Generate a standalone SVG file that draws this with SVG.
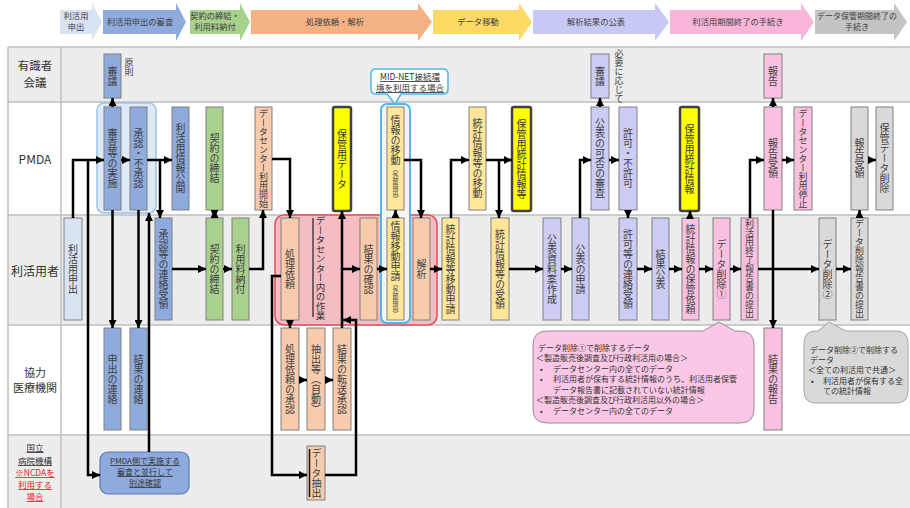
<svg xmlns="http://www.w3.org/2000/svg" width="910" height="508" viewBox="0 0 910 508">
<defs>
<marker id="ah" viewBox="0 0 10 10" refX="10" refY="5" markerWidth="8" markerHeight="8" markerUnits="userSpaceOnUse" orient="auto-start-reverse"><path d="M0,0 L10,5 L0,10 z" fill="#000"/></marker>
</defs>
<style>
text{font-family:"Noto Sans CJK JP","Noto Sans",sans-serif;fill:#333}
.v{writing-mode:vertical-rl;text-anchor:middle;dominant-baseline:central;font-size:10px;fill:#404040}
.vs{font-size:6px}
.h{text-anchor:middle;font-size:8.3px;fill:#404040}
.lbl{text-anchor:middle;font-size:12px;fill:#333}
.nl{text-anchor:middle;font-size:8.5px;text-decoration:underline}
.ct{font-size:8px;fill:#333}
.n rect{stroke:#808080;stroke-width:1}
.n .lb{fill:#DAE3F3}
.n .bl{fill:#8FAADC}
.n .gr{fill:#A9D18E}
.n .sa{fill:#F8CBAD}
.n .or{fill:#FFE699}
.n .ye{fill:#FFFF00;stroke:#404040;stroke-width:2.5}
.n .la{fill:#CCCCF5}
.n .pk{fill:#F9C0DF}
.n .gy{fill:#D9D9D9}
.cn path{fill:none;stroke:#000;stroke-width:2.5;marker-end:url(#ah)}
</style>
<rect x="0" y="0" width="910" height="508" fill="#FFFFFF"/>
<g id="phases">
<polygon points="60,10 92,10 92,3 102,22 92,41 92,34 60,34" fill="#DAE3F3"/>
<text class="h" x="76" y="19">利活用</text><text class="h" x="76" y="30">申出</text>
<polygon points="103,10 176,10 176,3 186,22 176,41 176,34 103,34" fill="#8FAADC"/>
<text class="h" x="140" y="25">利活用申出の審査</text>
<polygon points="190,10 240,10 240,3 250,22 240,41 240,34 190,34" fill="#A9D18E"/>
<text class="h" x="215" y="19">契約の締結・</text><text class="h" x="215" y="30">利用料納付</text>
<polygon points="251,10 418,10 418,3 432,22 418,41 418,34 251,34" fill="#F4B183"/>
<text class="h" x="335" y="25">処理依頼・解析</text>
<polygon points="433,10 519,10 519,3 532,22 519,41 519,34 433,34" fill="#FFD966"/>
<text class="h" x="478" y="25">データ移動</text>
<polygon points="533,10 655,10 655,3 669,22 655,41 655,34 533,34" fill="#C8C8F5"/>
<text class="h" x="596" y="25">解析結果の公表</text>
<polygon points="670,10 801,10 801,3 814,22 801,41 801,34 670,34" fill="#F9B6D8"/>
<text class="h" x="738" y="25">利活用期間終了の手続き</text>
<polygon points="815,10 894,10 894,3 907,22 894,41 894,34 815,34" fill="#C4C4C4"/>
<text class="h" x="857" y="19" style="font-size:8px">データ保管期間終了の</text><text class="h" x="857" y="30" style="font-size:8px">手続き</text>
</g>
<g id="lanes">
<rect x="8" y="47" width="902" height="55" fill="#EDEDED"/>
<rect x="8" y="102" width="902" height="113" fill="#FFFFFF"/>
<rect x="8" y="215" width="902" height="110" fill="#EDEDED"/>
<rect x="8" y="325" width="902" height="110" fill="#FFFFFF"/>
<rect x="8" y="435" width="902" height="73" fill="#EDEDED"/>
<path d="M8,47 H910 M8,102 H910 M8,215 H910 M8,325 H910 M8,435 H910 M8,47 V508 M61,47 V508" stroke="#BFBFBF" stroke-width="1.5" fill="none"/>
<text class="lbl" x="35" y="70" style="font-size:11.5px">有識者</text><text class="lbl" x="35" y="87" style="font-size:11.5px">会議</text>
<text class="lbl" x="35" y="164">PMDA</text>
<text class="lbl" x="35" y="276">利活用者</text>
<text class="lbl" x="35" y="377" style="font-size:11px">協力</text><text class="lbl" x="35" y="392" style="font-size:11px">医療機関</text>
<text class="nl" x="35" y="451">国立</text>
<text class="nl" x="35" y="464">病院機構</text>
<text class="nl" x="35" y="476" style="fill:#E8202A">※NCDAを</text>
<text class="nl" x="35" y="488" style="fill:#E8202A">利用する</text>
<text class="nl" x="35" y="500" style="fill:#E8202A">場合</text>
</g>
<g id="highlights">
<rect x="97" y="103" width="59" height="110" rx="7" fill="#DEEBF7" stroke="#9DC3E6" stroke-width="1.5"/>
<rect x="275" y="215" width="162" height="110" rx="9" fill="#F5BCC3" stroke="#E8485A" stroke-width="1.5"/>
<rect x="381" y="104" width="29" height="219" rx="6" fill="#F3F3F3" stroke="#4BB8E8" stroke-width="2"/>
</g>
<g id="callout-midnet">
<path d="M376,69 H443 Q448,69 448,74 V89 Q448,94 443,94 H401 L395,104 L387,94 H376 Q371,94 371,89 V74 Q371,69 376,69 Z" fill="#FFFFFF" stroke="#4BB8E8" stroke-width="1.5"/>
<text class="nl" x="410" y="80">MID-NET接続環</text>
<text class="nl" x="410" y="91">境を利用する場合</text>
</g>
<g id="n1" class="n"><rect class="lb" x="64" y="218" width="18" height="102"/><text class="v" x="73" y="269">利活用申出</text></g>
<g id="n2" class="n"><rect class="bl" x="104" y="54" width="17" height="44"/><text class="v" x="112.5" y="76">審議</text></g>
<g id="n2note"><text class="v" x="129" y="67" style="font-size:9px">原則</text></g>
<g id="n3" class="n"><rect class="bl" x="104" y="107" width="17" height="103"/><text class="v" x="112.5" y="158.5">審査等の実施</text></g>
<g id="n4" class="n"><rect class="bl" x="130" y="107" width="17" height="103"/><text class="v" x="138.5" y="158.5">承認・不承認</text></g>
<g id="n5" class="n"><rect class="bl" x="172" y="107" width="17" height="103"/><text class="v" x="180.5" y="158.5">利活用情報公開</text></g>
<g id="n6" class="n"><rect class="bl" x="155" y="218" width="17" height="102"/><text class="v" x="163.5" y="269">承認等の連絡受領</text></g>
<g id="n7" class="n"><rect class="bl" x="104" y="328" width="17" height="102"/><text class="v" x="112.5" y="379">申出の連絡</text></g>
<g id="n8" class="n"><rect class="bl" x="130" y="328" width="17" height="102"/><text class="v" x="138.5" y="379">結果の連絡</text></g>
<g id="n9"><rect x="100" y="452" width="89" height="42" rx="8" fill="#8FAADC" stroke="#5B7BB5" stroke-width="1.2"/>
<text class="nl" x="145" y="464" style="font-size:8px">PMDA側で実施する</text>
<text class="nl" x="145" y="475" style="font-size:8px">審査と並行して</text>
<text class="nl" x="145" y="486" style="font-size:8px">別途確認</text></g>
<g id="n10" class="n"><rect class="gr" x="206" y="107" width="17" height="103"/><text class="v" x="214.5" y="158.5">契約の締結</text></g>
<g id="n11" class="n"><rect class="gr" x="206" y="218" width="17" height="102"/><text class="v" x="214.5" y="269">契約の締結</text></g>
<g id="n12" class="n"><rect class="gr" x="232" y="218" width="17" height="102"/><text class="v" x="240.5" y="269">利用料納付</text></g>
<g id="n13" class="n"><rect class="sa" x="255" y="107" width="17" height="103"/><text class="v" x="263.5" y="158.5" style="font-size:9px">データセンター利用開始</text></g>
<g id="n14" class="n"><rect class="ye" x="333" y="107" width="18" height="104" rx="2"/><text class="v" x="342" y="159" style="fill:#333">保管用データ</text></g>
<g id="n15" class="n"><rect class="sa" x="281" y="218" width="18" height="102"/><text class="v" x="290" y="269">処理依頼</text></g>
<g id="n16"><line x1="313" y1="218" x2="313" y2="317" stroke="#222" stroke-width="1.2"/><text class="v" x="320.5" y="268" style="font-size:9.5px;fill:#333">データセンター内の作業</text></g>
<g id="n17" class="n"><rect class="sa" x="360" y="218" width="17" height="102"/><text class="v" x="368.5" y="269">結果の確認</text></g>
<g id="n18" class="n"><rect class="or" x="387" y="107" width="17" height="103"/><text class="v" x="395.5" y="158.5">情報の移動<tspan class="vs">（外部環境）</tspan></text></g>
<g id="n19" class="n"><rect class="or" x="387" y="218" width="17" height="102"/><text class="v" x="395.5" y="269">情報移動申請<tspan class="vs">（外部環境）</tspan></text></g>
<g id="n20" class="n"><rect class="sa" x="413" y="218" width="17" height="102"/><text class="v" x="421.5" y="269">解析</text></g>
<g id="n21" class="n"><rect class="sa" x="281" y="328" width="18" height="102"/><text class="v" x="290" y="379">処理依頼の承認</text></g>
<g id="n22" class="n"><rect class="sa" x="307" y="328" width="18" height="102"/><text class="v" x="316" y="379">抽出等（自動）</text></g>
<g id="n23" class="n"><rect class="sa" x="333" y="328" width="18" height="102"/><text class="v" x="342" y="379">結果の転送承認</text></g>
<g id="n24" class="n"><rect class="sa" x="307" y="446" width="18" height="54"/><line x1="309.5" y1="449" x2="309.5" y2="497" stroke="#111" stroke-width="1.5"/><text class="v" x="316.5" y="473">データ抽出</text></g>
<g id="n25" class="n"><rect class="or" x="469" y="107" width="17" height="103"/><text class="v" x="477.5" y="158.5">統計情報等の移動</text></g>
<g id="n26" class="n"><rect class="ye" x="512" y="107" width="19" height="104" rx="2"/><text class="v" x="521.5" y="159" style="fill:#333">保管用統計情報等</text></g>
<g id="n27" class="n"><rect class="or" x="442" y="218" width="17" height="102"/><text class="v" x="450.5" y="269">統計情報等移動申請</text></g>
<g id="n28" class="n"><rect class="or" x="491" y="218" width="18" height="102"/><text class="v" x="500" y="269">統計情報等の受領</text></g>
<g id="n29" class="n"><rect class="la" x="591" y="54" width="18" height="44"/><text class="v" x="600" y="76">審議</text></g>
<g id="n29note"><text class="v" x="619" y="76" style="font-size:9px">必要に応じて</text></g>
<g id="n30" class="n"><rect class="la" x="591" y="107" width="18" height="103"/><text class="v" x="600" y="158.5">公表の可否の審査</text></g>
<g id="n31" class="n"><rect class="la" x="619" y="107" width="18" height="103"/><text class="v" x="628" y="158.5">許可・不許可</text></g>
<g id="n32" class="n"><rect class="la" x="543" y="218" width="18" height="102"/><text class="v" x="552" y="269">公表資料案作成</text></g>
<g id="n33" class="n"><rect class="la" x="572" y="218" width="17" height="102"/><text class="v" x="580.5" y="269">公表の申請</text></g>
<g id="n34" class="n"><rect class="la" x="619" y="218" width="18" height="102"/><text class="v" x="628" y="269">許可等の連絡受領</text></g>
<g id="n35" class="n"><rect class="la" x="652" y="218" width="17" height="102"/><text class="v" x="660.5" y="269">結果公表</text></g>
<g id="n36" class="n"><rect class="ye" x="680" y="107" width="19" height="104" rx="2"/><text class="v" x="689.5" y="159" style="fill:#333">保管用統計情報</text></g>
<g id="n37" class="n"><rect class="pk" x="682" y="218" width="17" height="102"/><text class="v" x="690.5" y="269">統計情報の保管依頼</text></g>
<g id="n38" class="n"><rect class="pk" x="713" y="218" width="17" height="102"/><text class="v" x="721.5" y="269">データ削除①</text></g>
<g id="n39" class="n"><rect class="pk" x="741" y="218" width="17" height="102"/><text class="v" x="749.5" y="269" style="font-size:9px">利活用終了報告書の提出</text></g>
<g id="n40" class="n"><rect class="pk" x="764" y="54" width="18" height="44"/><text class="v" x="773" y="76">報告</text></g>
<g id="n41" class="n"><rect class="pk" x="764" y="107" width="18" height="103"/><text class="v" x="773" y="158.5">報告受領</text></g>
<g id="n42" class="n"><rect class="pk" x="794" y="107" width="18" height="103"/><text class="v" x="803" y="158.5" style="font-size:9px">データセンター利用停止</text></g>
<g id="n43" class="n"><rect class="pk" x="764" y="328" width="18" height="102"/><text class="v" x="773" y="379">結果の報告</text></g>
<g id="n44" class="n"><rect class="gy" x="851" y="107" width="17" height="103"/><text class="v" x="859.5" y="158.5">報告受領</text></g>
<g id="n45" class="n"><rect class="gy" x="876" y="107" width="17" height="103"/><text class="v" x="884.5" y="158.5">保管データ削除</text></g>
<g id="n46" class="n"><rect class="gy" x="819" y="218" width="17" height="102"/><text class="v" x="827.5" y="269">データ削除②</text></g>
<g id="n47" class="n"><rect class="gy" x="851" y="218" width="17" height="102"/><text class="v" x="859.5" y="269" style="font-size:9px">データ削除報告書の提出</text></g>
<g id="callout-del1">
<path d="M547,331 H703 L719,322 L735,331 H740 Q754,331 754,345 V409 Q754,423 740,423 H547 Q533,423 533,409 V345 Q533,331 547,331 Z" fill="#FAC8E6" stroke="#A08898" stroke-width="1"/>
<text class="ct" x="538" y="351">データ削除①で削除するデータ</text>
<text class="ct" x="536" y="361">＜製造販売後調査及び行政利活用の場合＞</text>
<text class="ct" x="540" y="372">•</text><text class="ct" x="553" y="372">データセンター内の全てのデータ</text>
<text class="ct" x="540" y="382">•</text><text class="ct" x="553" y="382">利活用者が保有する統計情報のうち、利活用者保管</text>
<text class="ct" x="553" y="393">データ報告書に記載されていない統計情報</text>
<text class="ct" x="536" y="403">＜製造販売後調査及び行政利活用以外の場合＞</text>
<text class="ct" x="540" y="414">•</text><text class="ct" x="553" y="414">データセンター内の全てのデータ</text>
</g>
<g id="callout-del2">
<path d="M816,331 H818 L829,322 L846,331 H896 Q908,331 908,343 V391 Q908,403 896,403 H816 Q804,403 804,391 V343 Q804,331 816,331 Z" fill="#D9D9D9" stroke="#A6A6A6" stroke-width="1"/>
<text class="ct" x="810" y="353">データ削除②で削除する</text>
<text class="ct" x="810" y="363">データ</text>
<text class="ct" x="808" y="373">＜全ての利活用で共通＞</text>
<text class="ct" x="811" y="384">•</text><text class="ct" x="823" y="384">利活用者が保有する全</text>
<text class="ct" x="823" y="394">ての統計情報</text>
</g>
<g id="connectors" class="cn">
<path d="M73,218 V160 H104"/>
<path d="M88,160 V475 H100"/>
<path d="M112.5,107 V98"/>
<path d="M121,160 H130"/>
<path d="M147,160 H172"/>
<path d="M160,160 V218"/>
<path d="M149,452 V213"/>
<path d="M112.5,210 V328"/>
<path d="M138.5,210 V328"/>
<path d="M172,269 H206"/>
<path d="M214.5,218 V210" style="marker-start:url(#ah)"/>
<path d="M223,269 H232"/>
<path d="M249,269 H263 V210"/>
<path d="M272,159 H290 V218"/>
<path d="M290,320 V328"/>
<path d="M281,276 H272 V475 H307"/>
<path d="M325,475 H356 V320 H343"/>
<path d="M342,328 V211"/>
<path d="M342,269 H360"/>
<path d="M299,380 H307"/>
<path d="M325,380 H333"/>
<path d="M377,269 H387"/>
<path d="M395.5,218 V210"/>
<path d="M404,160 H421 V218"/>
<path d="M430,269 H442"/>
<path d="M451,218 V160 H469"/>
<path d="M486,160 H512"/>
<path d="M499,160 V218"/>
<path d="M509,269 H543"/>
<path d="M561,269 H572"/>
<path d="M580,218 V160 H591"/>
<path d="M600,107 V98"/>
<path d="M609,160 H619"/>
<path d="M628,210 V218"/>
<path d="M637,269 H652"/>
<path d="M669,269 H682"/>
<path d="M690,218 V211"/>
<path d="M699,269 H713"/>
<path d="M730,269 H741"/>
<path d="M750,218 V160 H764"/>
<path d="M773,107 V98"/>
<path d="M782,160 H794"/>
<path d="M773,210 V328"/>
<path d="M758,269 H819"/>
<path d="M836,269 H851"/>
<path d="M859.5,218 V210"/>
<path d="M868,160 H876"/>
</g>
</svg>
